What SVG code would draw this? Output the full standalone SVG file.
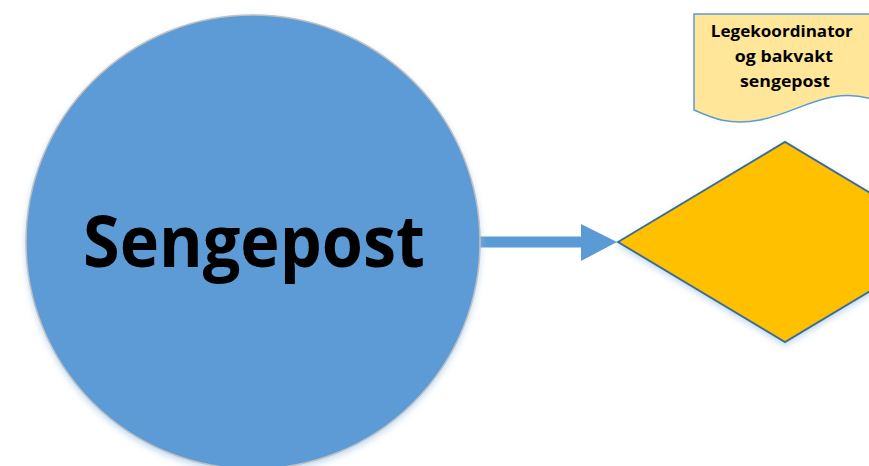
<svg xmlns="http://www.w3.org/2000/svg" width="869" height="466" viewBox="0 0 869 466">
  <style>
    .label { font-family: "Open Sans", "Liberation Sans", sans-serif; font-weight: bold; fill: #000; text-anchor: middle; }
  </style>
  <defs>
    <filter id="softShadow" x="-20%" y="-20%" width="140%" height="140%">
      <feGaussianBlur in="SourceAlpha" stdDeviation="3"/>
      <feOffset dx="0" dy="3" result="b"/>
      <feFlood flood-color="#9dc3e6" flood-opacity="0.6"/>
      <feComposite in2="b" operator="in"/>
      <feMerge><feMergeNode/><feMergeNode in="SourceGraphic"/></feMerge>
    </filter>
  </defs>
  <rect width="869" height="466" fill="#ffffff"/>

  <g id="connectors">
    <path d="M478 236.5 H581 V224 L617 242 L581 261 V247.5 H478 Z" fill="#5b9bd5"/>
  </g>

  <g id="sengepost" filter="url(#softShadow)">
    <circle cx="253" cy="242" r="227" fill="#5b9bd5" stroke="#c0c0c0" stroke-width="1.5"/>
    <text class="label" x="254" y="267" font-size="71" textLength="342" lengthAdjust="spacingAndGlyphs">Sengepost</text>
  </g>

  <g id="decision" filter="url(#softShadow)">
    <polygon points="618,242 785,142 952,242 785,342" fill="#ffc000" stroke="#3a6d99" stroke-width="2"/>
  </g>

  <g id="legekoordinator">
    <path d="M694 14 H875 V100 C830 85 800 112 760 120 C730 126 712 118 694 110 Z" fill="#ffe699" stroke="#5b9bd5" stroke-width="1.5"/>
    <text class="label" font-size="16.5">
      <tspan x="784" y="37" textLength="142" lengthAdjust="spacingAndGlyphs">Legekoordinator</tspan>
      <tspan x="786" y="62" textLength="98" lengthAdjust="spacingAndGlyphs">og bakvakt</tspan>
      <tspan x="785" y="87" textLength="90" lengthAdjust="spacingAndGlyphs">sengepost</tspan>
    </text>
  </g>
</svg>
